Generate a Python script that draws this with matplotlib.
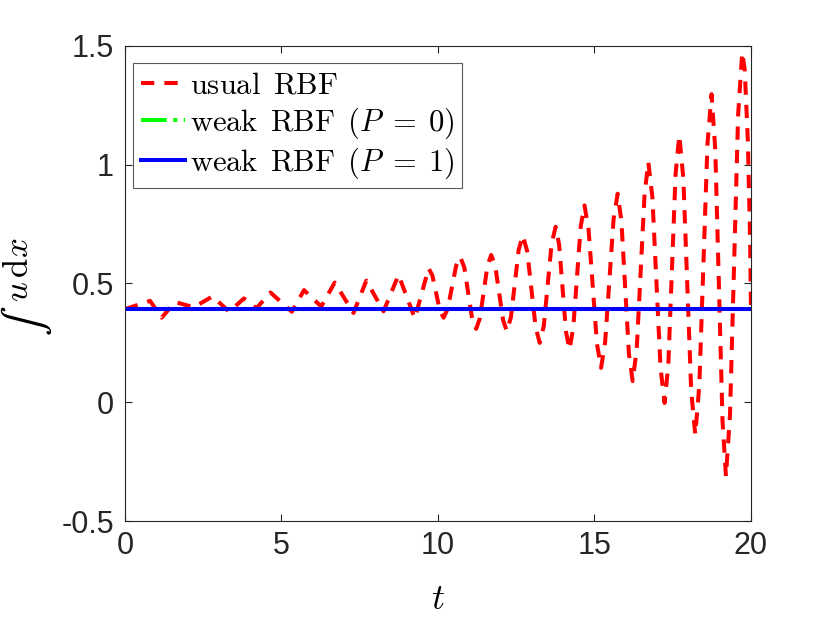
import matplotlib
matplotlib.use("Agg")
import matplotlib.pyplot as plt

plt.rcParams['mathtext.fontset'] = 'cm'
plt.rcParams['font.family'] = ['Liberation Sans', 'DejaVu Sans']

# usual RBF: values (extrema plus a few shoulder points)
t_usual = [0.00, 0.80, 1.17, 1.60, 2.20, 2.80, 3.33, 3.80, 4.20, 4.65,
           5.33, 5.72, 6.27, 6.70, 7.30, 7.71, 8.26, 8.74, 9.26, 9.70,
           9.82, 10.06, 10.18, 10.31, 10.58, 10.71, 10.84, 11.09, 11.22,
           11.34, 11.58, 11.70, 11.83, 12.08, 12.20, 12.33, 12.58, 12.71,
           12.85, 13.12, 13.25, 13.38, 13.63, 13.76, 13.87, 14.09, 14.20,
           14.32, 14.56, 14.68, 14.81, 15.08, 15.21, 15.34, 15.61, 15.74,
           15.86, 16.10, 16.22, 16.35, 16.60, 16.72, 16.85, 17.11, 17.24,
           17.36, 17.59, 17.71, 17.84, 18.09, 18.22, 18.35, 18.61, 18.74,
           18.86, 19.09, 19.20, 19.33, 19.59, 19.72, 19.80, 19.90, 19.97,
           20.00]
u_usual = [0.392, 0.427, 0.356, 0.422, 0.400, 0.446, 0.381, 0.437, 0.396, 0.462,
           0.381, 0.472, 0.403, 0.504, 0.376, 0.512, 0.383, 0.536, 0.353, 0.564,
           0.534, 0.386, 0.356, 0.393, 0.575, 0.612, 0.568, 0.353, 0.309,
           0.354, 0.575, 0.620, 0.573, 0.346, 0.299, 0.358, 0.643, 0.702,
           0.636, 0.316, 0.250, 0.321, 0.668, 0.739, 0.664, 0.297, 0.222,
           0.311, 0.740, 0.829, 0.729, 0.245, 0.145, 0.252, 0.771, 0.878,
           0.763, 0.204, 0.089, 0.224, 0.876, 1.011, 0.863, 0.145, -0.003,
           0.162, 0.959, 1.124, 0.940, 0.048, -0.136, 0.073, 1.088, 1.297,
           1.062, -0.077, -0.312, -0.051, 1.212, 1.473, 1.400, 1.100, 0.700,
           0.390]

# weak RBF: conserved, flat
t_weak = [0.0, 20.0]
u_weak_p0 = [0.393, 0.393]
u_weak_p1 = [0.393, 0.393]

xticks = [0, 5, 10, 15, 20]
yticks = [-0.5, 0, 0.5, 1, 1.5]
ytick_labels = ['-0.5', '0', '0.5', '1', '1.5']

fig = plt.figure(figsize=(8.3, 6.23), dpi=100)
ax = fig.add_axes([0.1506, 0.1637, 0.7542, 0.7625])

ax.plot(t_usual, u_usual, color='#ff0000', lw=2.9, linestyle=(0, (3.3, 2.5)),
        label=r'$\mathrm{usual}\ \,\mathrm{RBF}$')
ax.plot(t_weak, u_weak_p0, color='#00ff00', lw=2.9, linestyle='-.',
        label=r'$\mathrm{weak}\ \,\mathrm{RBF}\ \,(P\;=\;0)$')
ax.plot(t_weak, u_weak_p1, color='#0000ff', lw=2.9,
        label=r'$\mathrm{weak}\ \,\mathrm{RBF}\ \,(P\;=\;1)$')

ax.set_xlim(0, 20)
ax.set_ylim(-0.5, 1.5)
ax.set_xticks(xticks)
ax.set_yticks(yticks)
ax.set_yticklabels(ytick_labels)
ax.tick_params(direction='in', length=5, width=0.8, colors='0.15',
               labelsize=22, top=True, right=True)
ax.tick_params(axis='x', pad=7)
ax.tick_params(axis='y', pad=8)
for sp in ax.spines.values():
    sp.set_color('0.15')
    sp.set_linewidth(0.8)

ax.set_xlabel(r'$t$', fontsize=26, labelpad=15)

# y label: integral sign drawn separately (text-style size), then "u dx"
ax.set_ylabel(r'$u\,\mathrm{d}x$', fontsize=25)
ax.yaxis.set_label_coords(-0.143, 0.528)
fig.text(0.031, 0.481, '∫', rotation=90, ha='center', va='center',
         fontsize=32, family=['STIXGeneral', 'DejaVu Serif'])

leg = ax.legend(loc='upper left', bbox_to_anchor=(0.0128, 0.964),
                borderaxespad=0, fontsize=22, fancybox=False,
                framealpha=1, edgecolor='0.35', handlelength=1.45,
                handletextpad=0.15, labelspacing=0.15, borderpad=0.25)
leg.get_frame().set_linewidth(0.8)

fig.savefig('out.png', dpi=100, facecolor='white')
